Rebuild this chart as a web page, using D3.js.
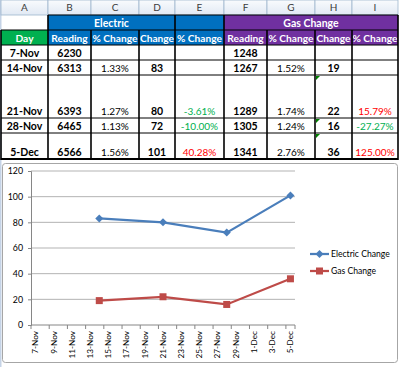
<!DOCTYPE html>
<html><head><meta charset="utf-8">
<script src="https://cdn.jsdelivr.net/npm/d3@7"></script>
<style>body{margin:0;background:#fff}svg{display:block}text{font-family:Lato,"Liberation Sans",sans-serif}</style>
</head><body><svg id="c" width="400" height="367"></svg>
<script>
// ---------- data ----------
const colLetters = ["A","B","C","D","E","F","G","H","I"];
const groupHeaders = ["Electric","Gas Change"];
const subHeaders = ["Day","Reading","% Change","Change","% Change","Reading","% Change","Change","% Change"];
const days = ["7-Nov","14-Nov","21-Nov","28-Nov","5-Dec"];
const elecReading = [6230,6313,6393,6465,6566];
const elecPct = ["","1.33%","1.27%","1.13%","1.56%"];
const elecChange = [null,83,80,72,101];
const elecPctChange = ["","","-3.61%","-10.00%","40.28%"];
const gasReading = [1248,1267,1289,1305,1341];
const gasPct = ["","1.52%","1.74%","1.24%","2.76%"];
const gasChange = [null,19,22,16,36];
const gasPctChange = ["","","15.79%","-27.27%","125.00%"];
const yTicks = [0,20,40,60,80,100,120];
const seriesNames = ["Electric Change","Gas Change"];
const year = "2011";

// ---------- layout ----------
const svg = d3.select("#c");
const colX = [1,48,91,139,175,224,267,315,352,398];
const rowY = [0,15,30,45,60,75,118,133,159];
const BLUE="#0070C0", PURPLE="#7030A0", GREEN="#00B050";

const defs = svg.append("defs");
const g1 = defs.append("linearGradient").attr("id","hdr").attr("x1",0).attr("y1",0).attr("x2",0).attr("y2",1);
g1.append("stop").attr("offset","0%").attr("stop-color","#F9FBFD");
g1.append("stop").attr("offset","100%").attr("stop-color","#E1E9F4");

// left strip
svg.append("rect").attr("x",0).attr("y",0).attr("width",1.5).attr("height",367).attr("fill","#C5D3E6");

// column header row
const hdr = svg.append("g");
colLetters.forEach((L,i)=>{
  hdr.append("rect").attr("x",colX[i]).attr("y",rowY[0]).attr("width",colX[i+1]-colX[i]).attr("height",rowY[1]-rowY[0])
    .attr("fill","url(#hdr)").attr("stroke","#9EB6CE").attr("stroke-width",0.8);
  hdr.append("text").attr("x",(colX[i]+colX[i+1])/2).attr("y",rowY[1]-4).attr("text-anchor","middle")
    .attr("font-size",10).attr("fill","#3a3a3a").text(L);
});

// header fills
function cell(c0,c1,r,fill){
  svg.append("rect").attr("x",colX[c0]).attr("y",rowY[r]).attr("width",colX[c1]-colX[c0]).attr("height",rowY[r+1]-rowY[r]).attr("fill",fill);
}
cell(1,5,1,BLUE); cell(5,9,1,PURPLE);
cell(0,1,2,GREEN); cell(1,5,2,BLUE); cell(5,9,2,PURPLE);
function txt(x,y,s,o){
  const t = svg.append("text").attr("x",x).attr("y",y).attr("text-anchor","middle").attr("font-size",o.size||10)
    .attr("font-weight",o.bold?"bold":"normal").attr("fill",o.fill||"#000").text(s);
  return t;
}
txt((colX[1]+colX[4])/2, rowY[2]-3.5, groupHeaders[0], {bold:true, fill:"#fff", size:10.5});
txt((colX[5]+colX[9])/2, rowY[2]-3.5, groupHeaders[1], {bold:true, fill:"#fff", size:10.5});
subHeaders.forEach((s,i)=>txt((colX[i]+colX[i+1])/2, rowY[3]-3.5, s, {bold:true, fill:"#fff", size:10.2}));

// data rows
const cols = [
  {v:days,bold:true},{v:elecReading,bold:true},{v:elecPct},{v:elecChange,bold:true},{v:elecPctChange,color:true},
  {v:gasReading,bold:true},{v:gasPct},{v:gasChange,bold:true},{v:gasPctChange,color:true}
];
days.forEach((d,r)=>{
  const yb = rowY[r+4]-3.5;
  cols.forEach((c,i)=>{
    const val = c.v[r];
    if(val===null||val==="") return;
    let fill = "#000";
    if(c.color) fill = String(val).startsWith("-") ? "#00B050" : "#FF0000";
    txt((colX[i]+colX[i+1])/2, yb, String(val), {bold:!!c.bold, fill, size:c.bold?10.5:10});
  });
});

// borders
const B = svg.append("g").attr("stroke","#000");
[[15,48,398,1],[30,1,398,1],[45,1,398,1],[60,1,398,1],[75,1,398,1],[118,1,398,1],[133,1,398,1],[159,1,398,2]]
  .forEach(([y,x0,x1,w])=>B.append("line").attr("x1",x0).attr("x2",x1).attr("y1",y).attr("y2",y).attr("stroke-width",w));
colX.forEach((x,i)=>{
  const top = (i===1||i===5||i===9||i===4) ? 15 : 30;
  B.append("line").attr("x1",x).attr("x2",x).attr("y1",top).attr("y2",160).attr("stroke-width",1.6);
});
// error indicators
[4,5,6].forEach(r=>{
  const x=colX[7]+1, y=rowY[r+1]+1;
  svg.append("path").attr("d",`M${x},${y}L${x+4},${y}L${x},${y+4}Z`).attr("fill","#008000");
});

// ---------- chart ----------
svg.append("rect").attr("x",2.5).attr("y",163.5).attr("width",395).attr("height",199).attr("rx",3)
  .attr("fill","#fff").attr("stroke","#A6A6A6").attr("stroke-width",1);

const parse = d3.timeParse("%d-%b-%Y");
const dates = days.map(d=>parse(d+"-"+year));
const start = dates[0], end = d3.timeDay.offset(dates[dates.length-1],1);
const x = d3.scaleTime().domain([start,end]).range([31,295]);
const y = d3.scaleLinear().domain([0,120]).range([325,171]);
const center = d=>x(d3.timeHour.offset(d,12));

const gridG = svg.append("g");
yTicks.forEach(t=>{
  if(t>0) gridG.append("line").attr("x1",31).attr("x2",295).attr("y1",y(t)).attr("y2",y(t)).attr("stroke","#B3B3B3").attr("stroke-width",1);
});
const yAxis = d3.axisLeft(y).tickValues(yTicks).tickSize(3).tickPadding(5);
const ya = svg.append("g").attr("transform","translate(31,0)").call(yAxis);
ya.select(".domain").attr("stroke","#868686");
ya.selectAll(".tick line").attr("stroke","#868686");
ya.selectAll("text").attr("font-size",8.8).attr("fill","#000").attr("font-family","Lato");

const xTickDates = d3.timeDay.range(start, end, 2);
const xg = svg.append("g");
xg.append("line").attr("x1",31).attr("x2",295).attr("y1",325).attr("y2",325).attr("stroke","#868686");
xTickDates.concat([end]).forEach(d=>{
  xg.append("line").attr("x1",x(d)).attr("x2",x(d)).attr("y1",325).attr("y2",329).attr("stroke","#868686");
});
const fmt = d3.timeFormat("%-d-%b");
xTickDates.forEach(d=>{
  xg.append("text").attr("transform",`translate(${center(d)},331) rotate(-90)`).attr("dy","0.35em")
    .attr("text-anchor","end").attr("font-size",8.2).attr("fill","#000").text(fmt(d));
});

const series = [
  {name:seriesNames[0], vals:elecChange, color:"#4A7EBB", marker:"diamond"},
  {name:seriesNames[1], vals:gasChange, color:"#BE4B48", marker:"square"}
];
const line = d3.line().x(p=>center(p.d)).y(p=>y(p.v));
function marker(g,type,cx,cy,color){
  if(type==="diamond") g.append("path").attr("d",`M${cx},${cy-4}L${cx+4},${cy}L${cx},${cy+4}L${cx-4},${cy}Z`).attr("fill",color);
  else g.append("rect").attr("x",cx-3.5).attr("y",cy-3.5).attr("width",7).attr("height",7).attr("fill",color);
}
series.forEach(s=>{
  const pts = dates.map((d,i)=>({d,v:s.vals[i]})).filter(p=>p.v!==null);
  const g = svg.append("g");
  g.append("path").attr("d",line(pts)).attr("fill","none").attr("stroke",s.color).attr("stroke-width",2.25);
  pts.forEach(p=>marker(g,s.marker,center(p.d),y(p.v),s.color));
});

// legend
series.forEach((s,i)=>{
  const ly = 254 + i*17;
  const g = svg.append("g");
  g.append("line").attr("x1",310).attr("x2",329).attr("y1",ly).attr("y2",ly).attr("stroke",s.color).attr("stroke-width",2.25);
  marker(g,s.marker,319.5,ly,s.color);
  g.append("text").attr("x",331).attr("y",ly).attr("dy","0.35em").attr("font-size",8.6).attr("fill","#000").text(s.name);
});
</script></body></html>
